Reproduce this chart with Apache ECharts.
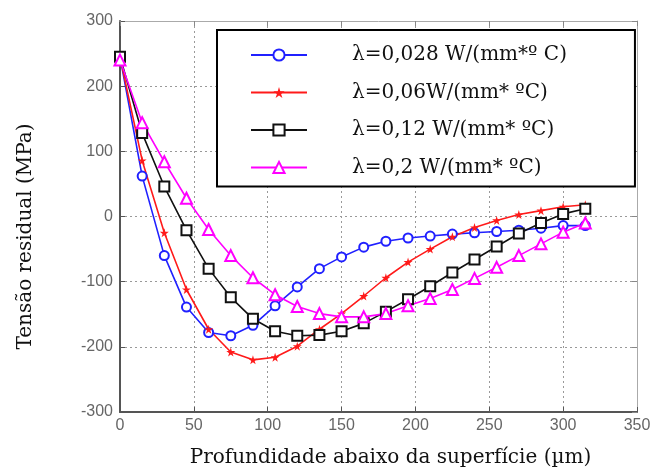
<!DOCTYPE html>
<html><head><meta charset="utf-8">
<script src="https://cdn.jsdelivr.net/npm/echarts@6/dist/echarts.min.js"></script>
<style>html,body{margin:0;padding:0;background:#fff}#c{width:654px;height:470px}</style>
</head><body><div id="c"></div>
<script>
const depth = [0,15,30,45,60,75,90,105,120,135,150,165,180,195,210,225,240,255,270,285,300,315];
const s028 = [245,62,-60,-139,-178,-183,-167,-137,-108,-80,-62,-47,-38,-33,-30,-27,-25,-23,-21,-18,-14,-14];
const s06  = [245,86,-25,-112,-173,-208,-220,-216,-199,-173,-149,-122,-94,-70,-50,-31,-17,-6,3,9,15,18];
const s12  = [245,128,46,-21,-80,-124,-157,-176,-183,-182,-176,-164,-146,-127,-107,-86,-66,-46,-26,-10,4,12];
const s2   = [240,144,84,28,-20,-60,-94,-120,-138,-149,-154,-154,-149,-137,-126,-112,-95,-78,-60,-42,-24,-10];
const names = ['λ=0,028 W/(mm*º C)','λ=0,06W/(mm* ºC)','λ=0,12 W/(mm* ºC)','λ=0,2 W/(mm* ºC)'];
const xTicks = [0,50,100,150,200,250,300,350];
const yTicks = [-300,-200,-100,0,100,200,300];

const star = 'path://M50,0 L61,35 L98,35 L68,57 L79,91 L50,70 L21,91 L32,57 L2,35 L39,35 Z';
const pair = (ys) => depth.map((d,i)=>[d,ys[i]]);
const chart = echarts.init(document.getElementById('c'));
const serif = '"DejaVu Serif","Liberation Serif",serif';
const sans = '"Liberation Sans",Arial,sans-serif';
const gridLine = {show:true, lineStyle:{color:'#999', type:[2,3], width:1}};
chart.setOption({
  animation:false,
  grid:{left:120, right:17, top:21, bottom:58, outerBoundsMode:'none', containLabel:false},
  legend:{
    orient:'vertical', left:217, top:30,
    backgroundColor:'#fff', borderColor:'#000', borderWidth:2,
    padding:[14,68,8,33], itemGap:15.5, itemWidth:56, itemHeight:14,
    textStyle:{fontFamily:serif, fontSize:20, color:'#111', padding:[0,0,0,40], lineHeight:22},
    data:names
  },
  xAxis:[{
    type:'value', min:xTicks[0], max:xTicks[xTicks.length-1], interval:50,
    name:'Profundidade abaixo da superfície (µm)', nameLocation:'middle', nameGap:36,
    nameTextStyle:{fontFamily:serif, fontSize:20, color:'#111', padding:[0,0,0,24]},
    axisLine:{show:true, onZero:false, lineStyle:{color:'#555', width:2}},
    axisTick:{show:true, inside:true, length:5, lineStyle:{color:'#555'}},
    axisLabel:{fontFamily:sans, fontSize:16, color:'#666', margin:6},
    splitLine:gridLine
  },{
    type:'value', position:'top', min:xTicks[0], max:xTicks[xTicks.length-1], interval:50,
    axisLine:{show:true, onZero:false, lineStyle:{color:'#aaa', width:1}},
    axisTick:{show:true, inside:true, length:5, lineStyle:{color:'#888'}},
    axisLabel:{show:false}, splitLine:{show:false}
  }],
  yAxis:[{
    type:'value', min:yTicks[0], max:yTicks[yTicks.length-1], interval:100,
    name:'Tensão residual (MPa)', nameLocation:'middle', nameGap:84, nameRotate:90,
    nameTextStyle:{fontFamily:serif, fontSize:20, color:'#111', padding:[0,40,0,0]},
    axisLine:{show:true, onZero:false, lineStyle:{color:'#555', width:2}},
    axisTick:{show:true, inside:true, length:5, lineStyle:{color:'#555'}},
    axisLabel:{fontFamily:sans, fontSize:16, color:'#666', margin:7},
    splitLine:gridLine
  },{
    type:'value', position:'right', min:yTicks[0], max:yTicks[yTicks.length-1], interval:100,
    axisLine:{show:true, onZero:false, lineStyle:{color:'#aaa', width:1}},
    axisTick:{show:true, inside:true, length:5, lineStyle:{color:'#888'}},
    axisLabel:{show:false}, splitLine:{show:false}
  }],
  series:[
    {name:names[0], type:'line', data:pair(s028), symbol:'emptyCircle', symbolSize:9,
     lineStyle:{color:'#2020ff', width:1.6}, itemStyle:{color:'#2020ff', borderWidth:1.4}},
    {name:names[1], type:'line', data:pair(s06), symbol:star, symbolSize:9,
     lineStyle:{color:'#ff1a1a', width:1.6}, itemStyle:{color:'#ff1a1a'}},
    {name:names[2], type:'line', data:pair(s12), symbol:'emptyRect', symbolSize:10,
     lineStyle:{color:'#111', width:1.6}, itemStyle:{color:'#111', borderWidth:1.4}},
    {name:names[3], type:'line', data:pair(s2), symbol:'emptyTriangle', symbolSize:11,
     lineStyle:{color:'#ff00ff', width:1.6}, itemStyle:{color:'#ff00ff', borderWidth:1.4}}
  ]
});
</script></body></html>
